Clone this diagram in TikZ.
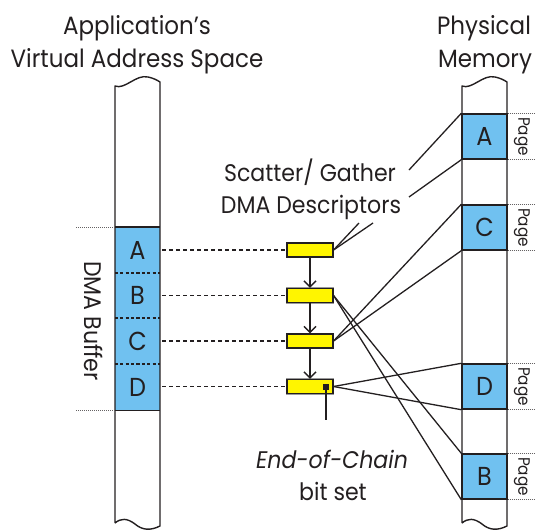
\documentclass[tikz,border=0pt]{standalone}
\usepackage{fontspec}
\setmainfont{Poppins}[FakeStretch=0.92]
\usetikzlibrary{arrows.meta}
\definecolor{ink}{HTML}{231F20}
\definecolor{memblue}{HTML}{70C1F0}
\definecolor{descyellow}{HTML}{FFF500}
\definecolor{halo}{HTML}{9A9A9A}
\tikzset{
  colline/.style={draw=ink, line width=1.4pt, line join=round},
  bigtext/.style={font=\fontsize{24}{32}\selectfont, text=ink, inner sep=0pt},
  titletext/.style={font=\fontsize{25}{32}\selectfont, text=ink, inner sep=0pt},
  pagetext/.style={font=\fontsize{16.5}{16.5}\selectfont, text=ink, inner sep=0pt, rotate=-90},
  vblk/.style={fill=memblue, minimum width=45pt, inner sep=0pt, font=\fontsize{26}{26}\selectfont, text=ink},
  pblk/.style={draw=ink, line width=1.4pt, fill=memblue, minimum width=45pt, minimum height=45pt, inner sep=0pt, font=\fontsize{26}{26}\selectfont, text=ink},
  descbox/.style={draw=ink, line width=1.1pt, fill=descyellow, minimum width=46pt, minimum height=14pt, inner sep=0pt,
    preaction={draw=halo, line width=2.6pt}},
  dashline/.style={draw=ink, line width=1.6pt, dash pattern=on 4pt off 3pt},
  sepline/.style={draw=ink, line width=1.6pt, dash pattern=on 3.2pt off 2.2pt},
  dotline/.style={draw=ink!70, line width=0.6pt, dash pattern=on 1pt off 1pt},
  link/.style={draw=ink, line width=1.3pt},
  chain/.style={draw=ink, line width=1.5pt, -{Straight Barb[length=6pt,width=12pt,line width=1.5pt]}},
}
\begin{document}
\begin{tikzpicture}[x=1pt,y=-1pt]
\useasboundingbox (0,0) rectangle (535,531);

% titles
\node[titletext, anchor=base] (t1) at (137,34) {Application’s};
\node[titletext, anchor=base] (t2) at (137,67) {Virtual Address Space};
\node[titletext, anchor=base] (t3) at (484,34) {Physical};
\node[titletext, anchor=base] (t4) at (485,67) {Memory};

% virtual buffer blocks
\node[vblk, minimum height=46pt] (vA) at (137.5,250) {A};
\node[vblk, minimum height=45pt] (vB) at (137.5,295.5) {B};
\node[vblk, minimum height=46pt] (vC) at (137.5,341) {C};
\node[vblk, minimum height=46pt] (vD) at (137.5,387) {D};
\draw[colline] (vA.north west) -- (vA.north east);
\draw[colline] (vD.south west) -- (vD.south east);
\draw[sepline] (vA.south west) -- (vA.south east);
\draw[sepline] (vB.south west) -- (vB.south east);
\draw[sepline] (vC.south west) -- (vC.south east);

% physical blocks
\node[pblk] (pA) at (484.5,136.5) {A};
\node[pblk] (pC) at (484.5,227.5) {C};
\node[pblk] (pD) at (484.5,386.5) {D};
\node[pblk] (pB) at (484.5,476.5) {B};

% columns
\foreach \dx in {0,347} {
  \begin{scope}[xshift=\dx pt]
    \draw[colline] (115,523) -- (115,86)
      .. controls (125,90) and (136,74) .. (148,77)
      .. controls (153,78) and (157,80) .. (160,82)
      -- (160,526)
      .. controls (150,531) and (142,530) .. (135,524)
      .. controls (127,518) and (121,518) .. (115,523);
  \end{scope}
}

% dotted extension lines
\draw[dotline] (vA.north west) -- ++(-40,0);
\draw[dotline] (vD.south west) -- ++(-40,0);
\foreach \p in {pA,pC,pD,pB} {
  \draw[dotline] (\p.north east) -- ++(28,0);
  \draw[dotline] (\p.south east) -- ++(28,0);
}

% labels
\node[bigtext, rotate=-90] (buf) at (94,321) {DMA Buffer};
\node[pagetext] (pgA) at (522,136.5) {Page};
\node[pagetext] (pgC) at (522,227.5) {Page};
\node[pagetext] (pgD) at (522,386.5) {Page};
\node[pagetext] (pgB) at (522,476.5) {Page};

% descriptors
\node[descbox] (d1) at (310,250) {};
\node[descbox] (d2) at (310,295.5) {};
\node[descbox] (d3) at (310,341) {};
\node[descbox] (d4) at (310,386.5) {};
\node[fill=ink, minimum size=5.5pt, inner sep=0pt] (eoc) at (326,387) {};

\draw[chain] (d1.south) -- (d2.north);
\draw[chain] (d2.south) -- (d3.north);
\draw[chain] (d3.south) -- (d4.north);

% dashed mapping lines
\draw[dashline, shorten <=2pt] (vA.east |- d1.west) -- (d1.west);
\draw[dashline, shorten <=2pt] (vB.east |- d2.west) -- (d2.west);
\draw[dashline, shorten <=2pt] (vC.east |- d3.west) -- (d3.west);
\draw[dashline, shorten <=2pt] (vD.east |- d4.west) -- (d4.west);

% descriptor -> physical page links
\draw[link] (d2.east) -- (pB.north west);
\draw[link] (d2.east) -- (pB.south west);
\draw[link] (d3.east) -- (pC.north west);
\draw[link] (d3.east) -- (pC.south west);
\draw[link] (d4.east) -- (pD.north west);
\draw[link] (d4.east) -- (pD.south west);

% Scatter/Gather label and pointers
\node[bigtext, anchor=base] (sg1) at (310,181) {Scatter/ Gather};
\node[bigtext, anchor=base] (sg2) at (311,213) {DMA Descriptors};
\coordinate (g1) at (409,170);
\coordinate (g2) at (409,197);
\coordinate (q1) at (359,223);
\coordinate (q2) at (373,223);
\draw[link] (g1) -- (pA.north west);
\draw[link] (g2) -- (pA.south west);
\draw[link] (d1.east) -- (q1);
\draw[link] (d1.east) -- (q2);

% End-of-chain
\coordinate (e1) at (326,420);
\draw[link, line width=1.5pt] (eoc.center) -- (e1);
\node[bigtext, anchor=base, font=\fontsize{24}{32}\selectfont\itshape] (ec1) at (332,468) {End-of-Chain};
\node[bigtext, anchor=base] (ec2) at (333,500) {bit set};
\end{tikzpicture}
\end{document}
